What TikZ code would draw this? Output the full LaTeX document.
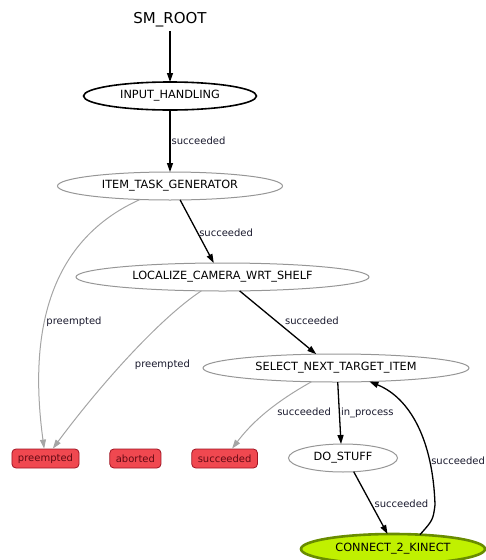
\documentclass[tikz,border=0pt]{standalone}
\usepackage{fontspec}
\setmainfont{DejaVu Sans}
\usepackage{xcolor}
\usepackage{tikz}
\usetikzlibrary{arrows.meta, shapes.geometric, positioning}
\definecolor{stategray}{RGB}{150,150,150}
\definecolor{edgegray}{RGB}{165,165,165}
\definecolor{outcomered}{RGB}{240,72,80}
\definecolor{outcomeborder}{RGB}{160,20,35}
\definecolor{outcometext}{RGB}{100,10,20}
\definecolor{kinectgreen}{RGB}{192,240,0}
\definecolor{kinectborder}{RGB}{105,140,0}
\definecolor{labelink}{RGB}{25,25,45}
\tikzset{
	node distance = 30pt,
	line width = 1.2pt,
	>={Triangle[length=9pt, width=6pt]},
	font = \fontsize{10}{12}\selectfont,
	state/.style={
		draw=stategray,
		ellipse,
		line width=1pt,
		inner sep=0pt,
		outer sep=0pt,
		minimum height=28pt,
		font=\fontsize{11.3}{13}\selectfont
	},
	start/.style={
		state,
		draw=black,
		line width=1.6pt
	},
	running/.style={
		state,
		fill=kinectgreen,
		draw=kinectborder,
		line width=2.6pt,
		minimum height=30pt
	},
	outcome/.style={
		draw=outcomeborder,
		fill=outcomered,
		text=outcometext,
		rounded corners=4pt,
		line width=.8pt,
		inner xsep=6pt,
		inner ysep=0pt,
		minimum height=19pt
	},
	edge/.style={
		->,
		line width=1.3pt
	},
	gedge/.style={
		->,
		draw=edgegray,
		line width=1pt
	},
	lbl/.style={
		text=labelink,
		inner sep=1pt
	}
}
\begin{document}
\begin{tikzpicture}[x=1pt, y=-1pt]
	\useasboundingbox (0,0) rectangle (486,560);

	\node[font=\fontsize{15}{18}\selectfont] at (170,20) (root) {SM\_ROOT};
	\node[start, minimum width=173pt] at (170,96) (ih) {INPUT\_HANDLING};
	\node[state, minimum width=225pt] at (170,186) (itg) {ITEM\_TASK\_GENERATOR};
	\node[state, minimum width=293pt] at (222.5,277) (lcws) {LOCALIZE\_CAMERA\_WRT\_SHELF};
	\node[state, minimum width=266pt] at (336,368) (snti) {SELECT\_NEXT\_TARGET\_ITEM};
	\node[state, minimum width=109pt] at (343,458) (dostuff) {DO\_STUFF};
	\node[running, minimum width=184pt] at (393,549) (c2k) {CONNECT\_2\_KINECT};

	\node[outcome] at (45.5,458.5) (pre) {preempted};
	\node[outcome, right=30pt of pre] (abo) {aborted};
	\node[outcome, right=30pt of abo] (suc) {succeeded};

	\draw[edge] (root) -- (ih);
	\draw[edge] (ih) -- node[lbl, right] {succeeded} (itg);
	\draw[edge] (itg.-54.5) -- node[lbl, pos=.52, right] {succeeded} (lcws.122);
	\draw[edge] (lcws.-39) -- node[lbl, pos=.48, right=7pt] {succeeded} (snti.145);
	\draw[edge] (snti.-83) -- node[lbl, right] {in\_process} (dostuff.98);
	\draw[edge] (dostuff.-52) -- node[lbl, pos=.51, right=2pt] {succeeded} (c2k.110);
	\draw[edge] (c2k.28) .. controls (433,520) .. (435,505)
		.. controls (433,440) and (410,398) .. node[lbl, pos=.25, right] {succeeded} (snti);

	\draw[gedge] (itg) .. controls (50,240) and (28,330) .. node[lbl, pos=.6, right] {preempted} (pre);
	\draw[gedge] (lcws) .. controls (160,318) and (100,385) .. node[lbl, pos=.55, right=12pt] {preempted} (pre);
	\draw[gedge] (snti) .. controls (270,405) and (250,425) .. node[lbl, pos=.45, right=9pt] {succeeded} (suc);
\end{tikzpicture}
\end{document}
